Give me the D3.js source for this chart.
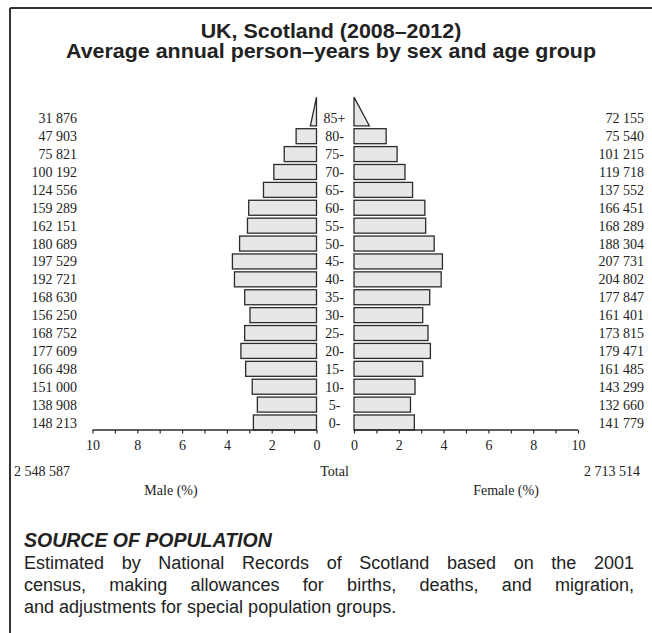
<!DOCTYPE html>
<html>
<head>
<meta charset="utf-8">
<script src="https://cdn.jsdelivr.net/npm/d3@7"></script>
<style>
  html, body { margin: 0; padding: 0; background: #fff; }
  svg { display: block; }
</style>
</head>
<body>
<svg id="chart" width="652" height="633"></svg>
<script>
// ---- data ----
const ages = ["0-","5-","10-","15-","20-","25-","30-","35-","40-","45-","50-","55-","60-","65-","70-","75-","80-","85+"];
const maleCounts = [148213,138908,151000,166498,177609,168752,156250,168630,192721,197529,180689,162151,159289,124556,100192,75821,47903,31876];
const femaleCounts = [141779,132660,143299,161485,179471,173815,161401,177847,204802,207731,188304,168289,166451,137552,119718,101215,75540,72155];
const totals = [2548587, 2713514];
const axisTicks = [0,2,4,6,8,10];
const minorTicks = [0,1,2,3,4,5,6,7,8,9,10];
const titleLines = ["UK, Scotland (2008\u20132012)", "Average annual person\u2013years by sex and age group"];
const sourceTitle = "SOURCE OF POPULATION";
const sourceLines = [
  "Estimated by National Records of Scotland based on the 2001",
  "census, making allowances for births, deaths, and migration,",
  "and adjustments for special population groups."
];

const grand = totals[0] + totals[1];
const pct = v => v / grand * 100;
const fmt = d3.formatLocale({decimal: ".", thousands: " ", grouping: [3], currency: ["", ""]}).format(",d");

const svg = d3.select("#chart");
const serif = "'Liberation Serif', 'Times New Roman', serif";
const sans = "'Liberation Sans', Arial, Helvetica, sans-serif";
const ink = "#2b2b2b";
const fs = 14;

// frame
svg.append("line").attr("x1", 10).attr("y1", 8).attr("x2", 652).attr("y2", 8).attr("stroke", "#333").attr("stroke-width", 2);
svg.append("line").attr("x1", 10).attr("y1", 8).attr("x2", 10).attr("y2", 633).attr("stroke", "#333").attr("stroke-width", 2);

// title (slightly widened to match the reference's face)
const titleEls = svg.selectAll("text.title").data(titleLines).enter().append("text")
  .attr("class", "title")
  .attr("x", 331).attr("y", (d, i) => 37.5 + i * 20)
  .attr("text-anchor", "middle")
  .attr("font-family", sans).attr("font-weight", "bold").attr("font-size", 19.5)
  .attr("fill", "#222")
  .text(d => d);
const titleTarget = 530;
const nodes = titleEls.nodes();
const widen = titleTarget / nodes[1].getComputedTextLength();
titleEls.each(function() {
  const w = this.getComputedTextLength();
  d3.select(this).attr("textLength", w * widen).attr("lengthAdjust", "spacingAndGlyphs");
});

// scales
const y = d3.scalePoint().domain(ages.slice().reverse()).range([118.3, 422.5]);
const step = y.step();
const barH = 15;
const xM = d3.scaleLinear().domain([0, 10]).range([316.5, 92.5]);
const xF = d3.scaleLinear().domain([0, 10]).range([354, 578]);
const fill = "#e6e7e8";

const rows = ages.map((a, i) => ({age: a, m: maleCounts[i], f: femaleCounts[i], last: i === ages.length - 1}));
const g = svg.append("g");

// bars (normal rows)
g.selectAll("rect.m").data(rows.filter(r => !r.last)).enter().append("rect")
  .attr("x", d => xM(pct(d.m))).attr("y", d => y(d.age) - barH / 2)
  .attr("width", d => xM(0) - xM(pct(d.m))).attr("height", barH)
  .attr("fill", fill).attr("stroke", ink).attr("stroke-width", 1.3);
g.selectAll("rect.f").data(rows.filter(r => !r.last)).enter().append("rect")
  .attr("x", xF(0)).attr("y", d => y(d.age) - barH / 2)
  .attr("width", d => xF(pct(d.f)) - xF(0)).attr("height", barH)
  .attr("fill", fill).attr("stroke", ink).attr("stroke-width", 1.3);

// open-ended group as triangle
const lastRow = rows[rows.length - 1];
const yb = y(lastRow.age) + barH / 2;
const ya = yb - step * 1.6;
g.append("path")
  .attr("d", `M${xM(0)},${yb}L${xM(pct(lastRow.m) * 0.45)},${yb}L${xM(0)},${ya}Z`)
  .attr("fill", fill).attr("stroke", ink).attr("stroke-width", 1.3).attr("stroke-linejoin", "miter");
g.append("path")
  .attr("d", `M${xF(0)},${yb}L${xF(pct(lastRow.f) * 0.5)},${yb}L${xF(0)},${ya}Z`)
  .attr("fill", fill).attr("stroke", ink).attr("stroke-width", 1.3).attr("stroke-linejoin", "miter");

// age labels
svg.selectAll("text.age").data(ages).enter().append("text")
  .attr("x", 334.5).attr("y", d => y(d) + 5)
  .attr("text-anchor", "middle").attr("font-family", serif).attr("font-size", fs).attr("fill", "#222")
  .text(d => d);

// counts
svg.selectAll("text.mc").data(rows).enter().append("text")
  .attr("x", 77).attr("y", d => y(d.age) + 5)
  .attr("text-anchor", "end").attr("font-family", serif).attr("font-size", fs).attr("fill", "#222")
  .text(d => fmt(d.m));
svg.selectAll("text.fc").data(rows).enter().append("text")
  .attr("x", 644).attr("y", d => y(d.age) + 5)
  .attr("text-anchor", "end").attr("font-family", serif).attr("font-size", fs).attr("fill", "#222")
  .text(d => fmt(d.f));

// axes
const axisY = 430;
function drawAxis(scale) {
  const ax = svg.append("g").attr("transform", `translate(0,${axisY})`)
    .call(d3.axisBottom(scale).tickValues(minorTicks).tickSize(3.5).tickFormat(d => axisTicks.includes(d) ? d : ""));
  ax.select(".domain").attr("stroke", ink).attr("stroke-width", 1.3).attr("d", `M${scale.range()[0]},0H${scale.range()[1]}`);
  ax.selectAll(".tick line").attr("stroke", ink).attr("stroke-width", 1.2);
  ax.selectAll(".tick text").attr("font-family", serif).attr("font-size", fs).attr("fill", "#222").attr("dy", "0.95em").attr("y", 6.5);
}
drawAxis(xM);
drawAxis(xF);

// totals
svg.append("text").attr("x", 14).attr("y", 476).attr("font-family", serif).attr("font-size", fs).attr("fill", "#222").text(fmt(totals[0]));
svg.append("text").attr("x", 334.5).attr("y", 476).attr("text-anchor", "middle").attr("font-family", serif).attr("font-size", fs).attr("fill", "#222").text("Total");
svg.append("text").attr("x", 640).attr("y", 476).attr("text-anchor", "end").attr("font-family", serif).attr("font-size", fs).attr("fill", "#222").text(fmt(totals[1]));
svg.append("text").attr("x", 171).attr("y", 495).attr("text-anchor", "middle").attr("font-family", serif).attr("font-size", fs).attr("fill", "#222").text("Male (%)");
svg.append("text").attr("x", 506).attr("y", 495).attr("text-anchor", "middle").attr("font-family", serif).attr("font-size", fs).attr("fill", "#222").text("Female (%)");

// source block
svg.append("text").attr("x", 24).attr("y", 547).attr("font-family", sans).attr("font-weight", "bold").attr("font-style", "italic")
  .attr("font-size", 19.5).attr("fill", "#222").text(sourceTitle);
const lineEls = svg.selectAll("text.src").data(sourceLines).enter().append("text")
  .attr("class", "src")
  .attr("x", 24).attr("y", (d, i) => 569 + i * 22)
  .attr("font-family", sans).attr("font-size", 18).attr("fill", "#222")
  .text(d => d);
const targetW = 610;
lineEls.each(function(d, i) {
  if (i === sourceLines.length - 1) return;
  const w = this.getComputedTextLength();
  const spaces = (d.match(/ /g) || []).length;
  if (spaces > 0 && w < targetW) d3.select(this).attr("word-spacing", (targetW - w) / spaces);
});
</script>
</body>
</html>
